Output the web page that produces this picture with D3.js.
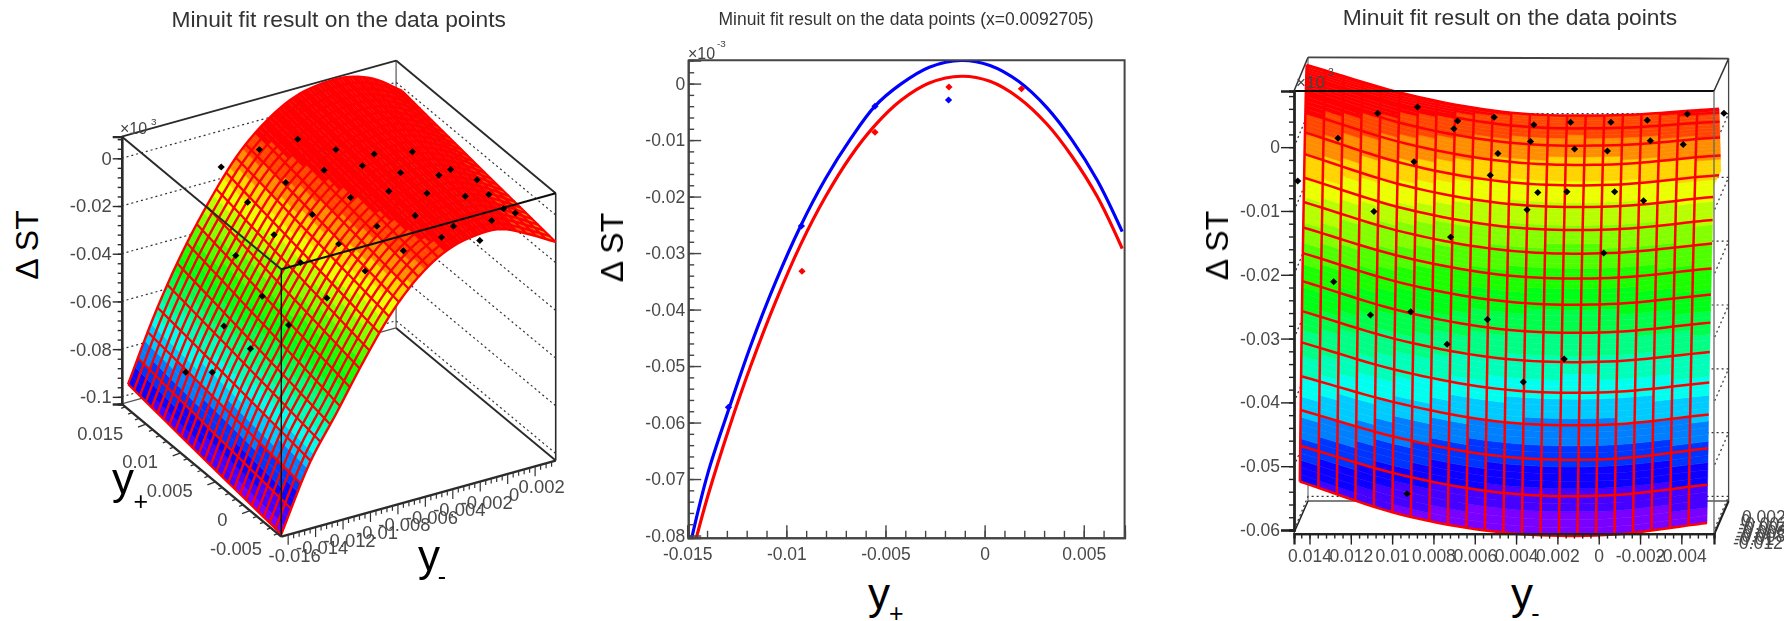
<!DOCTYPE html>
<html>
<head>
<meta charset="utf-8">
<script src="https://d3js.org/d3.v7.min.js"></script>
<style>
body { margin: 0; background: #fff; }
text { font-family: "Liberation Sans", sans-serif; }
.tick text { font-family: "Liberation Sans", sans-serif; fill: #484848; }
</style>
</head>
<body>
<div id="chart"></div>
<script>
// ---- left panel: fit surface, read on y- nodes (columns) and y+ nodes (rows)
var leftYMinusNodes = [-0.0165, -0.0145, -0.0125, -0.0105, -0.0085, -0.0065, -0.0045, -0.0025, -0.0005, 0.0015, 0.0035];
var leftYPlusNodes = [-0.0065, 0.00454, 0.01558];
var leftSurface = [
  [-0.102, -0.0762, -0.0578, -0.039, -0.0222, -0.01, -0.0024, 0.0007, 0.0005, -0.0048, -0.0113],
  [-0.0975, -0.0708, -0.0504, -0.0318, -0.0156, -0.0043, 0.003, 0.0058, 0.0056, 0.0008, -0.0066],
  [-0.0925, -0.0655, -0.043, -0.0245, -0.009, 0.0015, 0.0083, 0.011, 0.0108, 0.0067, -0.0015]
];
var leftPtYMinus = [
  -0.00948, -0.0076, -0.00572, -0.00384, -0.00196, -0.00008, 0.0018, 0.00368,
  -0.00948, -0.0076, -0.00572, -0.00384, -0.00196, -0.00008, 0.0018, 0.00368,
  -0.01136, -0.00948, -0.0076, -0.00572, -0.00384, -0.00196, -0.00008, 0.0018,
  -0.01512, -0.01324, -0.01136, -0.00948, -0.0076, -0.00572, -0.00384, -0.00196, -0.00008,
  -0.01512, -0.01324, -0.01136, -0.00948, -0.0076, -0.00572, -0.00384, -0.00196
];
var leftPtYPlus = [
  0.01604, 0.01425, 0.01245, 0.01066, 0.00886, 0.00707, 0.00528, 0.00348,
  0.01223, 0.01044, 0.00865, 0.00685, 0.00506, 0.00326, 0.00147, -0.00032,
  0.01022, 0.00843, 0.00663, 0.00484, 0.00304, 0.00125, -0.00055, -0.00234,
  0.01, 0.00821, 0.00641, 0.00462, 0.00283, 0.00103, -0.00076, -0.00256, -0.00435,
  0.00619, 0.0044, 0.00261, 0.00081, -0.00098, -0.00278, -0.00457, -0.00636
];
var leftPtST = [
  -0.0137, -0.0051, 0.0006, -0.0024, -0.0029, -0.0006, -0.0067, -0.0158,
  -0.0193, -0.0097, -0.0032, 0.0001, -0.0015, -0.0012, -0.0018, -0.0144,
  -0.0338, -0.0237, -0.0139, -0.0054, -0.0014, -0.0009, -0.0008, -0.0047,
  -0.0762, -0.0555, -0.0416, -0.0261, -0.017, -0.0082, -0.0024, -0.0055, -0.0018,
  -0.067, -0.0558, -0.0445, -0.0318, -0.0192, -0.0093, -0.0023, -0.0023
];
var leftSTTicks = [0, -0.02, -0.04, -0.06, -0.08, -0.1];
var leftSTLabels = ["0", "-0.02", "-0.04", "-0.06", "-0.08", "-0.1"];
var leftYMinusTicks = [-0.016, -0.014, -0.012, -0.01, -0.008, -0.006, -0.004, -0.002, 0, 0.002];
var leftYMinusLabels = ["-0.016", "-0.014", "-0.012", "-0.01", "-0.008", "-0.006", "-0.004", "-0.002", "0", "0.002"];
var leftYPlusTicks = [-0.005, 0, 0.005, 0.01, 0.015];
var leftYPlusLabels = ["-0.005", "0", "0.005", "0.01", "0.015"];

// ---- middle panel: slice at fixed x, two fits and their points
var midFitX = [-0.01477, -0.01396, -0.01288, -0.0118, -0.01054, -0.00928, -0.00802, -0.00676, -0.00553, -0.00423, -0.00279, -0.00117, 0.00027, 0.00171, 0.00315, 0.00441, 0.00568, 0.00694];
var midBlueFit = [-0.0804, -0.069, -0.0574, -0.0464, -0.0351, -0.0252, -0.0168, -0.0098, -0.004, -0.0001, 0.0029, 0.0041, 0.0032, 0.0004, -0.0043, -0.01, -0.0171, -0.0262];
var midRedFitX = [-0.01454, -0.01396, -0.01288, -0.0118, -0.01054, -0.00928, -0.00802, -0.00676, -0.00553, -0.00423, -0.00279, -0.00117, 0.00027, 0.00171, 0.00315, 0.00441, 0.00568, 0.00694];
var midRedFit = [-0.0804, -0.073, -0.0609, -0.05, -0.0386, -0.0285, -0.02, -0.0129, -0.0074, -0.003, 0.0001, 0.0013, 0.0004, -0.0025, -0.0072, -0.0129, -0.02, -0.0292];
var midBluePtX = [-0.01292, -0.00924, -0.00553, -0.00182];
var midBluePtY = [-0.0573, -0.0252, -0.004, -0.0029];
var midRedPtX = [-0.00921, -0.00553, -0.0018, 0.00186];
var midRedPtY = [-0.0332, -0.0086, -0.0006, -0.0009];
var midYTicks = [0, -0.01, -0.02, -0.03, -0.04, -0.05, -0.06, -0.07, -0.08];
var midYLabels = ["0", "-0.01", "-0.02", "-0.03", "-0.04", "-0.05", "-0.06", "-0.07", "-0.08"];
var midXTicks = [-0.015, -0.01, -0.005, 0, 0.005];
var midXLabels = ["-0.015", "-0.01", "-0.005", "0", "0.005"];

// ---- right panel: same kind of surface seen from the end, rows bottom to top, 5 columns
var rightSurface = [
  [-0.0524, -0.0576, -0.0604, -0.0608, -0.0589],
  [-0.0468, -0.0514, -0.0542, -0.0546, -0.0529],
  [-0.0412, -0.0457, -0.0485, -0.0489, -0.0472],
  [-0.0359, -0.0403, -0.0431, -0.0435, -0.0419],
  [-0.0306, -0.0352, -0.038, -0.0384, -0.0369],
  [-0.0257, -0.0304, -0.0332, -0.0336, -0.0321],
  [-0.021, -0.0258, -0.0286, -0.029, -0.0275],
  [-0.0166, -0.0214, -0.0242, -0.0246, -0.0231],
  [-0.0126, -0.0173, -0.0201, -0.0205, -0.019],
  [-0.0086, -0.0134, -0.0162, -0.0166, -0.0151],
  [-0.0048, -0.0097, -0.0125, -0.0129, -0.0114],
  [-0.0011, -0.0061, -0.0089, -0.0093, -0.0078],
  [0.0023, -0.0027, -0.0055, -0.0059, -0.0044],
  [0.0054, 0.0005, -0.0023, -0.0027, -0.0013],
  [0.0085, 0.0035, 0.0007, 0.0003, 0.0015],
  [0.011, 0.0062, 0.0034, 0.003, 0.004],
  [0.0129, 0.0082, 0.0054, 0.005, 0.006]
];
var rightPtYMinus = [0.01457, 0.01262, 0.0107, 0.00877, 0.00683, 0.00701, 0.00506, 0.00314, 0.00136, -0.00059, -0.00235, -0.00429, -0.00606,
  0.00894, 0.00488, 0.0033, 0.00117, -0.00042, -0.0025, -0.00409,
  0.01088, 0.00525, 0.00295, 0.00154, -0.00077, -0.00217, 0.00347,
  0.00717, -0.00024, 0.01283, 0.01105, 0.0091, 0.00539, 0.00734, 0.00167, 0.00365, 0.00928];
var rightPtST = [-0.0053, 0.0014, 0.0053, 0.0063, 0.0041, 0.0029, 0.0047, 0.0035, 0.0039, 0.0039, 0.0042, 0.0052, 0.0053,
  -0.0023, -0.001, 0.0009, -0.0003, -0.0006, 0.001, 0.0004,
  -0.0101, -0.0044, -0.0071, -0.007, -0.007, -0.0084, -0.0098,
  -0.0141, -0.0166, -0.0211, -0.0263, -0.0258, -0.027, -0.0309, -0.0332, -0.0368, -0.0543];
var rightSTTicks = [0, -0.01, -0.02, -0.03, -0.04, -0.05, -0.06];
var rightSTLabels = ["0", "-0.01", "-0.02", "-0.03", "-0.04", "-0.05", "-0.06"];
var rightXTicks = [0.014, 0.012, 0.01, 0.008, 0.006, 0.004, 0.002, 0, -0.002, -0.004];
var rightXLabels = ["0.014", "0.012", "0.01", "0.008", "0.006", "0.004", "0.002", "0", "-0.002", "-0.004"];
var rightDepthTicks = [0.002, 0, -0.002, -0.004, -0.006, -0.008, -0.01, -0.012];
var rightDepthLabels = ["0.002", "0", "-0.002", "-0.004", "-0.006", "-0.008", "-0.01", "-0.012"];

var paletteStops = [0, 0.12, 0.3, 0.55, 0.81, 1];
var paletteColors = ["#7a00ff", "#0000ff", "#00ffff", "#00ff00", "#ffff00", "#ff0000"];

var svg = d3.select("#chart").append("svg").attr("width", 1784).attr("height", 621).style("display", "block");

// source picture is a slightly soft upscale
svg.append("defs").append("filter").attr("id", "soft")
  .attr("filterUnits", "userSpaceOnUse").attr("x", 0).attr("y", 0).attr("width", 1784).attr("height", 621)
  .append("feGaussianBlur").attr("stdDeviation", 0.6);

var plots = svg.append("g").attr("filter", "url(#soft)");

var ramp = d3.scaleLinear().domain(paletteStops).range(paletteColors);
function bands(lo, hi, n) {
  return d3.scaleQuantize().domain([lo, hi]).range(d3.quantize(ramp, n));
}

// catmull-rom through equally spaced nodes, u in 0..1, straight run-off at the ends
function smooth(vals, u) {
  var n = vals.length - 1, f = Math.min(u * n, n - 1e-9), i = Math.floor(f), s = f - i;
  var p1 = vals[i], p2 = vals[i + 1];
  var p0 = i > 0 ? vals[i - 1] : 2 * p1 - p2;
  var p3 = i + 2 <= n ? vals[i + 2] : 2 * p2 - p1;
  return 0.5 * (2 * p1 + (p2 - p0) * s + (2 * p0 - 5 * p1 + 4 * p2 - p3) * s * s + (3 * p1 - p0 - 3 * p2 + p3) * s * s * s);
}
function tableAt(table, u, v) {
  return smooth(table.map(function(r) { return smooth(r, u); }), v);
}

var line = d3.line();

function title(str, cx, y, size) {
  plots.append("text").attr("x", cx).attr("y", y).attr("text-anchor", "middle")
    .attr("font-size", size).attr("fill", "#333").text(str);
}
function stTitle(x, y) {
  svg.append("text").attr("transform", "translate(" + x + "," + y + ") rotate(-90)")
    .attr("text-anchor", "middle").attr("font-size", 32).attr("fill", "#000").text("Δ ST");
}
function varTitle(x, y, sub, sx, sy) {
  svg.append("text").attr("x", x).attr("y", y).attr("font-size", 44).attr("fill", "#000").text("y");
  svg.append("text").attr("x", sx).attr("y", sy).attr("text-anchor", "middle").attr("font-size", 25).attr("fill", "#000").text(sub);
}
function exponent(x, y, str, sx, sy, g, size) {
  g.append("text").attr("x", x).attr("y", y).attr("font-size", size).attr("fill", "#444").text("×10");
  g.append("text").attr("x", sx).attr("y", sy).attr("font-size", size * 0.62).attr("fill", "#444").text(str);
}
function styleAxis(g, color, width) {
  g.select(".domain").attr("stroke", color).attr("stroke-width", width);
  g.selectAll(".tick line").attr("stroke", color).attr("stroke-width", 1.4);
}
function diamonds(g, pts, color) {
  g.selectAll(null).data(pts).enter().append("path")
    .attr("d", d3.symbol().type(d3.symbolDiamond).size(14)())
    .attr("transform", function(d) { return "translate(" + d[0] + "," + d[1] + ") scale(1.8,1)"; })
    .attr("fill", color);
}

// ================= left panel =================
var leftT = d3.scaleLinear().domain([-0.0165, 0.0035]).range([0, 1]);
var leftB = d3.scaleLinear().domain([-0.0065, 0.0165]).range([0, 1]);
var leftH = d3.scaleLinear().domain([-0.103, 0.0091]).range([0, 267.3]);
function p1(ym, yp, z) {
  var t = leftT(ym), b = leftB(yp);
  return [281.3 + 274.4 * t - 159.6 * b, 536.6 - 76 * t - 132.7 * b - leftH(z)];
}
var ymLo = -0.0165, ymHi = 0.0035, ypLo = -0.0065, ypHi = 0.0165, zLo = -0.103, zHi = 0.0091;
var left = plots.append("g");

title("Minuit fit result on the data points", 338.7, 26.7, 22.8);

var boxDark = "#2b2b2b";
function seg(g, a, b, color, w) {
  g.append("path").attr("d", line([a, b])).attr("stroke", color).attr("stroke-width", w).attr("fill", "none");
}
// back walls
seg(left, p1(ymLo, ypHi, zLo), p1(ymHi, ypHi, zLo), "#555", 1.1);
seg(left, p1(ymHi, ypHi, zLo), p1(ymHi, ypHi, zHi), "#777", 1.5);
seg(left, p1(ymHi, ypHi, zLo), p1(ymHi, ypLo, zLo), boxDark, 1.9);
seg(left, p1(ymHi, ypHi, zHi), p1(ymLo, ypHi, zHi), boxDark, 1.9);
seg(left, p1(ymHi, ypHi, zHi), p1(ymHi, ypLo, zHi), boxDark, 1.9);
seg(left, p1(ymHi, ypLo, zLo), p1(ymHi, ypLo, zHi), boxDark, 1.6);
d3.range(-0.1, 0.001, 0.02).forEach(function(z) {
  left.append("path")
    .attr("d", line([p1(ymLo, ypHi, z), p1(ymHi, ypHi, z), p1(ymHi, ypLo, z)]))
    .attr("fill", "none").attr("stroke", "#333").attr("stroke-width", 1.2).attr("stroke-dasharray", "2,3");
});

// surface cells, painted far to near
var leftColor = bands(-0.103, 0.003, 20);
var leftNA = 28, leftNB = 26, leftSub = 3;
var surf1 = left.append("g");
var ymNode = d3.scaleLinear().domain([0, 1]).range([leftYMinusNodes[0], leftYMinusNodes[leftYMinusNodes.length - 1]]);
var ypNode = d3.scaleLinear().domain([0, 1]).range([leftYPlusNodes[0], leftYPlusNodes[leftYPlusNodes.length - 1]]);
function leftPoint(u, v) {
  return p1(ymNode(u), ypNode(v), tableAt(leftSurface, u, v));
}
for (var j = leftNB - 1; j >= 0; j--) {
  var v0 = j / leftNB, v1 = (j + 1) / leftNB;
  for (var i = 0; i < leftNA * leftSub; i++) {
    var u0 = i / (leftNA * leftSub), u1 = (i + 1) / (leftNA * leftSub);
    var c = leftColor(tableAt(leftSurface, (u0 + u1) / 2, (v0 + v1) / 2));
    surf1.append("path")
      .attr("d", line([leftPoint(u0, v0), leftPoint(u1, v0), leftPoint(u1, v1), leftPoint(u0, v1)]) + "Z")
      .attr("fill", c).attr("stroke", c).attr("stroke-width", 0.5);
  }
}
// red mesh
d3.range(leftNB + 1).forEach(function(j) {
  surf1.append("path")
    .attr("d", line(d3.range(57).map(function(k) { return leftPoint(k / 56, j / leftNB); })))
    .attr("fill", "none").attr("stroke", "#ff0000").attr("stroke-width", 2.4);
});
d3.range(leftNA + 1).forEach(function(i) {
  surf1.append("path")
    .attr("d", line(d3.range(9).map(function(k) { return leftPoint(i / leftNA, k / 8); })))
    .attr("fill", "none").attr("stroke", "#ff0000").attr("stroke-width", 2.2);
});

// front edges over the surface
seg(left, p1(ymLo, ypLo, zLo), p1(ymLo, ypLo, zHi), "#111", 1.4);
seg(left, p1(ymLo, ypLo, zHi), p1(ymLo, ypHi, zHi), boxDark, 2);
seg(left, p1(ymLo, ypLo, zHi), p1(ymHi, ypLo, zHi), "#111", 2);
seg(left, p1(ymLo, ypLo, zLo), p1(ymLo, ypHi, zLo), boxDark, 2.4);
seg(left, p1(ymLo, ypLo, zLo), p1(ymHi, ypLo, zLo), boxDark, 2.4);

// slanted axes
d3.range(-0.016, 0.0035, 0.0004).forEach(function(v, i) {
  var a = p1(v, ypLo, zLo), major = i % 5 === 0;
  seg(left, a, [a[0], a[1] + (major ? 10 : 5)], "#333", 1.2);
});
d3.range(-0.006, 0.0165, 0.001).forEach(function(v, i) {
  var a = p1(ymLo, v, zLo), major = (i + 1) % 5 === 0;
  seg(left, a, [a[0] - (major ? 8 : 4), a[1] + (major ? 3 : 1.5)], "#333", 1.3);
});
left.selectAll(null).data(leftYMinusTicks).enter().append("text")
  .attr("x", function(d) { return p1(d, ypLo, zLo)[0] + 6.5; })
  .attr("y", function(d) { return p1(d, ypLo, zLo)[1] + 27; })
  .attr("text-anchor", "middle").attr("font-size", 18.4).attr("fill", "#484848")
  .text(function(d, i) { return leftYMinusLabels[i]; });
left.selectAll(null).data(leftYPlusTicks).enter().append("text")
  .attr("x", function(d) { return p1(ymLo, d, zLo)[0] - 8.8; })
  .attr("y", function(d) { return p1(ymLo, d, zLo)[1] + 27; })
  .attr("text-anchor", "end").attr("font-size", 18.4).attr("fill", "#484848")
  .text(function(d, i) { return leftYPlusLabels[i]; });

// ST axis on the left edge
var leftZ = d3.scaleLinear().domain([zLo, zHi]).range([404, 136.6]);
var leftZAxis = left.append("g").attr("transform", "translate(121.7,0)")
  .call(d3.axisLeft(leftZ).tickValues(leftSTTicks).tickSize(9).tickPadding(1).tickFormat(function(d, i) { return leftSTLabels[i]; }));
leftZAxis.selectAll("text").attr("font-size", 18.4);
styleAxis(leftZAxis, boxDark, 2.4);
var leftZMinor = left.append("g").attr("transform", "translate(121.7,0)")
  .call(d3.axisLeft(leftZ).tickValues(d3.range(-0.1, 0.009, 0.004)).tickSize(4).tickFormat(""));
styleAxis(leftZMinor, boxDark, 2.4);
exponent(120, 134, "3", 151, 125, left, 16);

diamonds(left, leftPtYMinus.map(function(d, i) { return p1(d, leftPtYPlus[i], leftPtST[i]); }), "#000");

stTitle(38, 245);
varTitle(112, 494, "+", 140.8, 510);
varTitle(418, 571, "-", 442, 584.5);

// ================= middle panel =================
var mid = plots.append("g");
var midX = d3.scaleLinear().domain([-0.01495, 0.00706]).range([688.2, 1124.6]);
var midY = d3.scaleLinear().domain([-0.0804, 0.00414]).range([537.8, 60.2]);

title("Minuit fit result on the data points (x=0.0092705)", 906, 25, 17.5);

svg.select("defs").append("clipPath").attr("id", "midClip").append("rect")
  .attr("x", 688.2).attr("y", 60.2).attr("width", 436.4).attr("height", 477.6);

var fitLine = d3.line().x(function(d) { return midX(d[0]); }).y(function(d) { return midY(d[1]); }).curve(d3.curveCatmullRom);
mid.append("path").attr("clip-path", "url(#midClip)").attr("fill", "none").attr("stroke", "#ff0000").attr("stroke-width", 3.2)
  .attr("d", fitLine(d3.zip(midRedFitX, midRedFit)));
mid.append("path").attr("clip-path", "url(#midClip)").attr("fill", "none").attr("stroke", "#0000ff").attr("stroke-width", 3.2)
  .attr("d", fitLine(d3.zip(midFitX, midBlueFit)));

diamonds(mid, midBluePtX.map(function(d, i) { return [midX(d), midY(midBluePtY[i])]; }), "#0000ff");
diamonds(mid, midRedPtX.map(function(d, i) { return [midX(d), midY(midRedPtY[i])]; }), "#ff0000");

var midAxisY = mid.append("g").attr("transform", "translate(688.2,0)")
  .call(d3.axisLeft(midY).tickValues(midYTicks).tickSize(-13).tickPadding(3).tickFormat(function(d, i) { return midYLabels[i]; }));
midAxisY.selectAll("text").attr("font-size", 17.5);
styleAxis(midAxisY, "#444", 2);
styleAxis(mid.append("g").attr("transform", "translate(688.2,0)")
  .call(d3.axisLeft(midY).tickValues(d3.range(-0.08, 0.004, 0.002)).tickSize(-6).tickFormat("")), "#444", 2);
var midAxisX = mid.append("g").attr("transform", "translate(0,537.8)")
  .call(d3.axisBottom(midX).tickValues(midXTicks).tickSize(-12.5).tickPadding(10).tickFormat(function(d, i) { return midXLabels[i]; }));
midAxisX.selectAll("text").attr("font-size", 17.5);
styleAxis(midAxisX, "#444", 2);
styleAxis(mid.append("g").attr("transform", "translate(0,537.8)")
  .call(d3.axisBottom(midX).tickValues(d3.range(-0.014, 0.007, 0.001)).tickSize(-7).tickFormat("")), "#444", 2);
mid.append("path").attr("d", line([[688.2, 60.2], [1124.6, 60.2], [1124.6, 537.8]]))
  .attr("fill", "none").attr("stroke", "#444").attr("stroke-width", 2);
exponent(688, 59, "-3", 717, 47, mid, 16);

stTitle(623, 247.5);
varTitle(868, 609, "+", 896.4, 622);

// ================= right panel =================
var right = plots.append("g");
var rightX = d3.scaleLinear().domain([0.01475, -0.00558]).range([1294, 1714]);
var rightY = d3.scaleLinear().domain([-0.06, 0.0088]).range([530, 91]);

title("Minuit fit result on the data points", 1510, 24.5, 22.8);

// back of the box
seg(right, [1308, 57.4], [1728.6, 58.6], "#444", 1.9);
seg(right, [1294, 91], [1308, 57.4], "#333", 1.5);
seg(right, [1714, 91], [1728.6, 58.6], "#333", 1.5);
seg(right, [1728.6, 58.6], [1728.6, 501], "#444", 1.3);
seg(right, [1308, 501], [1728.6, 501], "#555", 1.7);
seg(right, [1294, 532.7], [1308, 501], "#222", 1.5);
seg(right, [1714, 534.6], [1728.6, 501], "#222", 2.2);
seg(right, [1308, 57.4], [1308, 501], "#555", 1);
rightSTTicks.forEach(function(z) {
  right.append("path")
    .attr("d", line([[1294, rightY(z)], [1308, rightY(z) - 33.6], [1728.6, rightY(z) - 33.6], [1714, rightY(z)]]))
    .attr("fill", "none").attr("stroke", "#333").attr("stroke-width", 1.2).attr("stroke-dasharray", "2,3");
});

// surface cells
var rightColor = bands(-0.06, 0.0085, 20);
var rightCols = 22, rightRows = 16, rightSub = 5;
var rLeft = d3.scaleLinear().domain([0, 1]).range([1299.8, 1306.7]);
var rRight = d3.scaleLinear().domain([0, 1]).range([1707, 1716]);
// last column sticks out past the box near the top
var rLip = d3.scaleLinear().domain([0, 0.72, 0.76, 1]).range([0, 0, 7, 3]);
function rightPoint(u, v) {
  var lip = u > (rightCols - 1) / rightCols ? (u - (rightCols - 1) / rightCols) * rightCols * rLip(v) : 0;
  return [rLeft(v) + u * (rRight(v) - rLeft(v)) + lip, rightY(tableAt(rightSurface, u, v))];
}
var surf3 = right.append("g");
for (var rj = 0; rj < rightRows * rightSub; rj++) {
  var rv0 = rj / (rightRows * rightSub), rv1 = (rj + 1) / (rightRows * rightSub);
  for (var ri = 0; ri < rightCols; ri++) {
    var ru0 = ri / rightCols, ru1 = (ri + 1) / rightCols;
    var rc = rightColor(tableAt(rightSurface, (ru0 + ru1) / 2, (rv0 + rv1) / 2));
    surf3.append("path")
      .attr("d", line([rightPoint(ru0, rv0), rightPoint(ru1, rv0), rightPoint(ru1, rv1), rightPoint(ru0, rv1)]) + "Z")
      .attr("fill", rc).attr("stroke", rc).attr("stroke-width", 0.5);
  }
}
d3.range(rightRows + 1).forEach(function(j) {
  surf3.append("path")
    .attr("d", line(d3.range(45).map(function(k) { return rightPoint(k / 44, j / rightRows); })))
    .attr("fill", "none").attr("stroke", "#ff0000").attr("stroke-width", 2.5);
});
d3.range(rightCols).forEach(function(i) {
  surf3.append("path")
    .attr("d", line(d3.range(33).map(function(k) { return rightPoint(i / rightCols, k / 32); })))
    .attr("fill", "none").attr("stroke", "#ff0000").attr("stroke-width", 2.5);
});

// front of the box, axes
seg(right, [1294, 91], [1714, 91], "#111", 2);
seg(right, [1714, 91], [1714, 534.6], "#666", 1.3);
var rightAxisY = right.append("g").attr("transform", "translate(1294,0)")
  .call(d3.axisLeft(rightY).tickValues(rightSTTicks).tickSize(13).tickPadding(1).tickFormat(function(d, i) { return rightSTLabels[i]; }));
rightAxisY.selectAll("text").attr("font-size", 17.5);
styleAxis(rightAxisY, "#222", 2.3);
styleAxis(right.append("g").attr("transform", "translate(1294,0)")
  .call(d3.axisLeft(rightY).tickValues(d3.range(-0.06, 0.009, 0.002)).tickSize(5).tickFormat("")), "#222", 2.3);
var rightAxisX = right.append("g").attr("transform", "translate(0,533.6)")
  .call(d3.axisBottom(rightX).tickValues(rightXTicks).tickSize(11).tickPadding(5).tickFormat(function(d, i) { return rightXLabels[i]; }));
rightAxisX.selectAll("text").attr("font-size", 17.5);
styleAxis(rightAxisX, "#222", 2.3);
styleAxis(right.append("g").attr("transform", "translate(0,533.6)")
  .call(d3.axisBottom(rightX).tickValues(d3.range(-0.0052, 0.0148, 0.0004)).tickSize(5).tickFormat("")), "#222", 2.3);
exponent(1296, 88, "3", 1328, 76, right, 17);

// the depth axis labels land on top of each other in the source
var depthY = d3.scaleLinear().domain([0.002, -0.012]).range([523, 549]);
var depthX = d3.scaleLinear().domain([0.002, -0.012]).range([1742, 1733]);
right.selectAll(null).data(rightDepthTicks).enter().append("text")
  .attr("x", function(d) { return depthX(d); }).attr("y", function(d) { return depthY(d); })
  .attr("font-size", 17.5).attr("fill", "#484848")
  .text(function(d, i) { return rightDepthLabels[i]; });

diamonds(right, rightPtYMinus.map(function(d, i) { return [rightX(d), rightY(rightPtST[i])]; }), "#000");

stTitle(1228, 245.5);
varTitle(1511, 609, "-", 1535.5, 622);
</script>
</body>
</html>
